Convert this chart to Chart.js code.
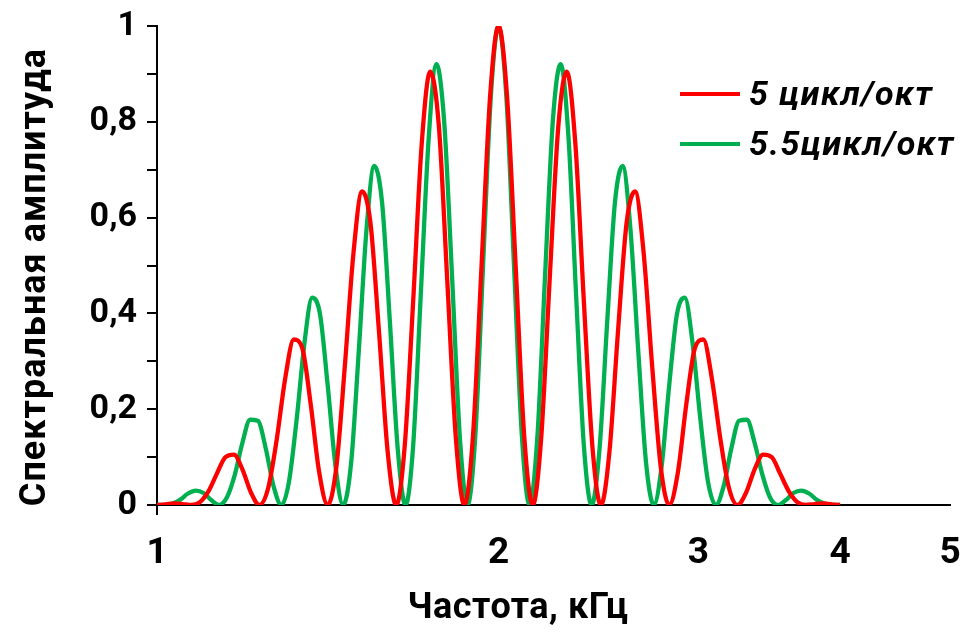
<!DOCTYPE html>
<html>
<head>
<meta charset="utf-8">
<script src="https://cdn.jsdelivr.net/npm/chart.js@4"></script>
<style>
  body { margin: 0; background: #fff; }
  #wrap { width: 968px; height: 635px; }
</style>
</head>
<body>
<div id="wrap"><canvas id="grafica" width="968" height="635"></canvas></div>
<script>
// частота, кГц (логарифмическая ось)
const freqRed = [
  1.000, 1.017, 1.035, 1.053, 1.072, 1.091, 1.110, 1.129, 1.149, 1.169,
  1.189, 1.210, 1.231, 1.253, 1.275, 1.297, 1.320, 1.343, 1.366, 1.390,
  1.414, 1.439, 1.464, 1.490, 1.516, 1.542, 1.569, 1.597, 1.625, 1.653,
  1.682, 1.711, 1.741, 1.772, 1.802, 1.834, 1.866, 1.899, 1.932, 1.966,
  2.000, 2.035, 2.071, 2.107, 2.144, 2.181, 2.219, 2.258, 2.297, 2.338,
  2.378, 2.420, 2.462, 2.505, 2.549, 2.594, 2.639, 2.685, 2.732, 2.780,
  2.828, 2.878, 2.928, 2.979, 3.031, 3.084, 3.138, 3.193, 3.249, 3.306,
  3.364, 3.422, 3.482, 3.543, 3.605, 3.668, 3.732, 3.797, 3.864, 3.931,
  4.000
];
const ampRed = [
  0, 0.0013, 0.0031, 0.0020, 0, 0.0060, 0.0285, 0.0650, 0.1000, 0.1050,
  0.0750, 0.0262, 0, 0.0350, 0.1365, 0.2635, 0.3455, 0.3272, 0.2109, 0.0675,
  0, 0.0789, 0.2891, 0.5264, 0.6545, 0.5901, 0.3635, 0.1115, 0, 0.1207,
  0.4268, 0.7513, 0.9045, 0.7907, 0.4728, 0.1408, 0, 0.1444, 0.4969, 0.8523,
  1.0000,
  0.8523, 0.4969, 0.1444, 0, 0.1408, 0.4728, 0.7907, 0.9045, 0.7513, 0.4268,
  0.1207, 0, 0.1115, 0.3635, 0.5901, 0.6545, 0.5264, 0.2891, 0.0789, 0,
  0.0675, 0.2109, 0.3272, 0.3455, 0.2635, 0.1365, 0.0350, 0, 0.0262, 0.0750,
  0.1050, 0.1000, 0.0650, 0.0285, 0.0060, 0, 0.0020, 0.0031, 0.0013, 0
];
const freqGreen = [
  1.000, 1.016, 1.032, 1.048, 1.065, 1.082, 1.099, 1.117, 1.134, 1.152,
  1.171, 1.189, 1.208, 1.227, 1.247, 1.267, 1.287, 1.307, 1.328, 1.349,
  1.370, 1.392, 1.414, 1.437, 1.459, 1.483, 1.506, 1.530, 1.554, 1.579,
  1.604, 1.630, 1.656, 1.682, 1.708, 1.736, 1.763, 1.791, 1.820, 1.849,
  1.878, 1.908, 1.938, 1.969, 2.000,
  2.032, 2.064, 2.097, 2.130, 2.164, 2.198, 2.233, 2.269, 2.305, 2.341,
  2.378, 2.416, 2.455, 2.494, 2.533, 2.573, 2.614, 2.656, 2.698, 2.741,
  2.784, 2.828, 2.873, 2.919, 2.965, 3.012, 3.060, 3.109, 3.158, 3.208,
  3.259, 3.311, 3.364, 3.417, 3.471, 3.526, 3.582, 3.639, 3.697, 3.756,
  3.815, 3.876, 3.937, 4.000
];
const ampGreen = [
  0, 0.0002, 0.0030, 0.0110, 0.0240, 0.0300, 0.0250, 0.0100, 0, 0.0150,
  0.0630, 0.1290, 0.1780, 0.1760, 0.1180, 0.0390, 0, 0.0480, 0.1810, 0.3390,
  0.4330, 0.3990, 0.2500, 0.0784, 0, 0.0888, 0.3204, 0.5759, 0.7077, 0.6314,
  0.3852, 0.1171, 0, 0.1250, 0.4389, 0.7685, 0.9206, 0.8014, 0.4774, 0.1418,
  0, 0.1447, 0.4975, 0.8525,
  1.0000,
  0.8525, 0.4975, 0.1447, 0, 0.1418, 0.4774, 0.8014, 0.9206, 0.7685, 0.4389,
  0.1250, 0, 0.1171, 0.3852, 0.6314, 0.7077, 0.5759, 0.3204, 0.0888, 0,
  0.0784, 0.2500, 0.3990, 0.4330, 0.3390, 0.1810, 0.0480, 0, 0.0390, 0.1180,
  0.1760, 0.1780, 0.1290, 0.0630, 0.0150, 0, 0.0100, 0.0250, 0.0300, 0.0240,
  0.0110, 0.0030, 0.0002, 0
];
const xTicks = [1, 2, 3, 4, 5];
const seriesNames = ["5 цикл/окт", "5.5цикл/окт"];
const seriesColors = ["#ff0000", "#00b050"];
const xTitle = 'Частота, кГц';
const yTitle = 'Спектральная амплитуда';

const FONT = "Roboto, 'Noto Sans', sans-serif";

const toPoints = (xs, ys) => xs.map((x, i) => ({ x: x, y: ys[i] }));

// легенда справа вверху и подписи осей
const extrasPlugin = {
  id: 'extras',
  afterDraw(chart) {
    const ctx = chart.ctx;
    ctx.save();
    chart.data.datasets.forEach((ds, i) => {
      const y = 94 + i * 50;
      ctx.strokeStyle = ds.borderColor;
      ctx.lineWidth = 4;
      ctx.beginPath();
      ctx.moveTo(680, y);
      ctx.lineTo(740, y);
      ctx.stroke();
      ctx.fillStyle = '#000';
      ctx.font = "italic bold 34px " + FONT;
      ctx.letterSpacing = '1.5px';
      ctx.textBaseline = 'middle';
      ctx.textAlign = 'left';
      ctx.fillText(ds.label, 749, y + 2);
    });

    ctx.letterSpacing = '0.5px';
    ctx.font = "bold 36px " + FONT;
    ctx.textAlign = 'center';
    ctx.textBaseline = 'middle';
    ctx.fillText(xTitle, 518, 609);

    ctx.letterSpacing = '1px';
    ctx.translate(36, 277);
    ctx.rotate(-Math.PI / 2);
    ctx.fillText(yTitle, 0, 0);
    ctx.restore();
  }
};

const myChart = new Chart(document.getElementById('grafica'), {
  type: 'line',
  data: {
    datasets: [
      {
        label: seriesNames[0],
        data: toPoints(freqRed, ampRed),
        borderColor: seriesColors[0],
        borderWidth: 4.3,
        pointRadius: 0,
        cubicInterpolationMode: 'monotone'
      },
      {
        label: seriesNames[1],
        data: toPoints(freqGreen, ampGreen),
        borderColor: seriesColors[1],
        borderWidth: 4.3,
        pointRadius: 0,
        cubicInterpolationMode: 'monotone'
      }
    ]
  },
  options: {
    responsive: false,
    animation: false,
    layout: { padding: { top: 26, right: 18, left: 0, bottom: 0 } },
    plugins: {
      legend: { display: false },
      tooltip: { enabled: false }
    },
    scales: {
      x: {
        type: 'logarithmic',
        min: 1,
        max: 5,
        afterBuildTicks: (scale) => { scale.ticks = xTicks.map(v => ({ value: v })); },
        afterFit: (scale) => {
          scale.height = 130;
          scale.paddingLeft = 0;
          scale.paddingRight = 0;
        },
        grid: {
          drawOnChartArea: false,
          tickLength: 10,
          lineWidth: 2,
          tickColor: (c) => c.index === 0 ? '#000' : 'rgba(0,0,0,0)'
        },
        border: { color: '#000', width: 2 },
        ticks: {
          color: '#000',
          padding: 17,
          maxRotation: 0,
          autoSkip: false,
          font: { family: FONT, size: 37, weight: 'bold' },
          callback: (v) => String(v)
        }
      },
      y: {
        min: 0,
        max: 1,
        afterFit: (scale) => {
          scale.width = 157;
          scale.paddingTop = 0;
          scale.paddingBottom = 0;
        },
        grid: {
          drawOnChartArea: false,
          tickLength: 10,
          lineWidth: 2,
          tickColor: '#000'
        },
        border: { color: '#000', width: 2 },
        ticks: {
          stepSize: 0.1,
          color: '#000',
          padding: 10,
          autoSkip: false,
          font: { family: FONT, size: 34, weight: 'bold' },
          callback: (v) => {
            const n = Math.round(v * 10);
            if (n % 2 !== 0) return '';
            return String(n / 10).replace('.', ',');
          }
        }
      }
    }
  },
  plugins: [extrasPlugin]
});
</script>
</body>
</html>
